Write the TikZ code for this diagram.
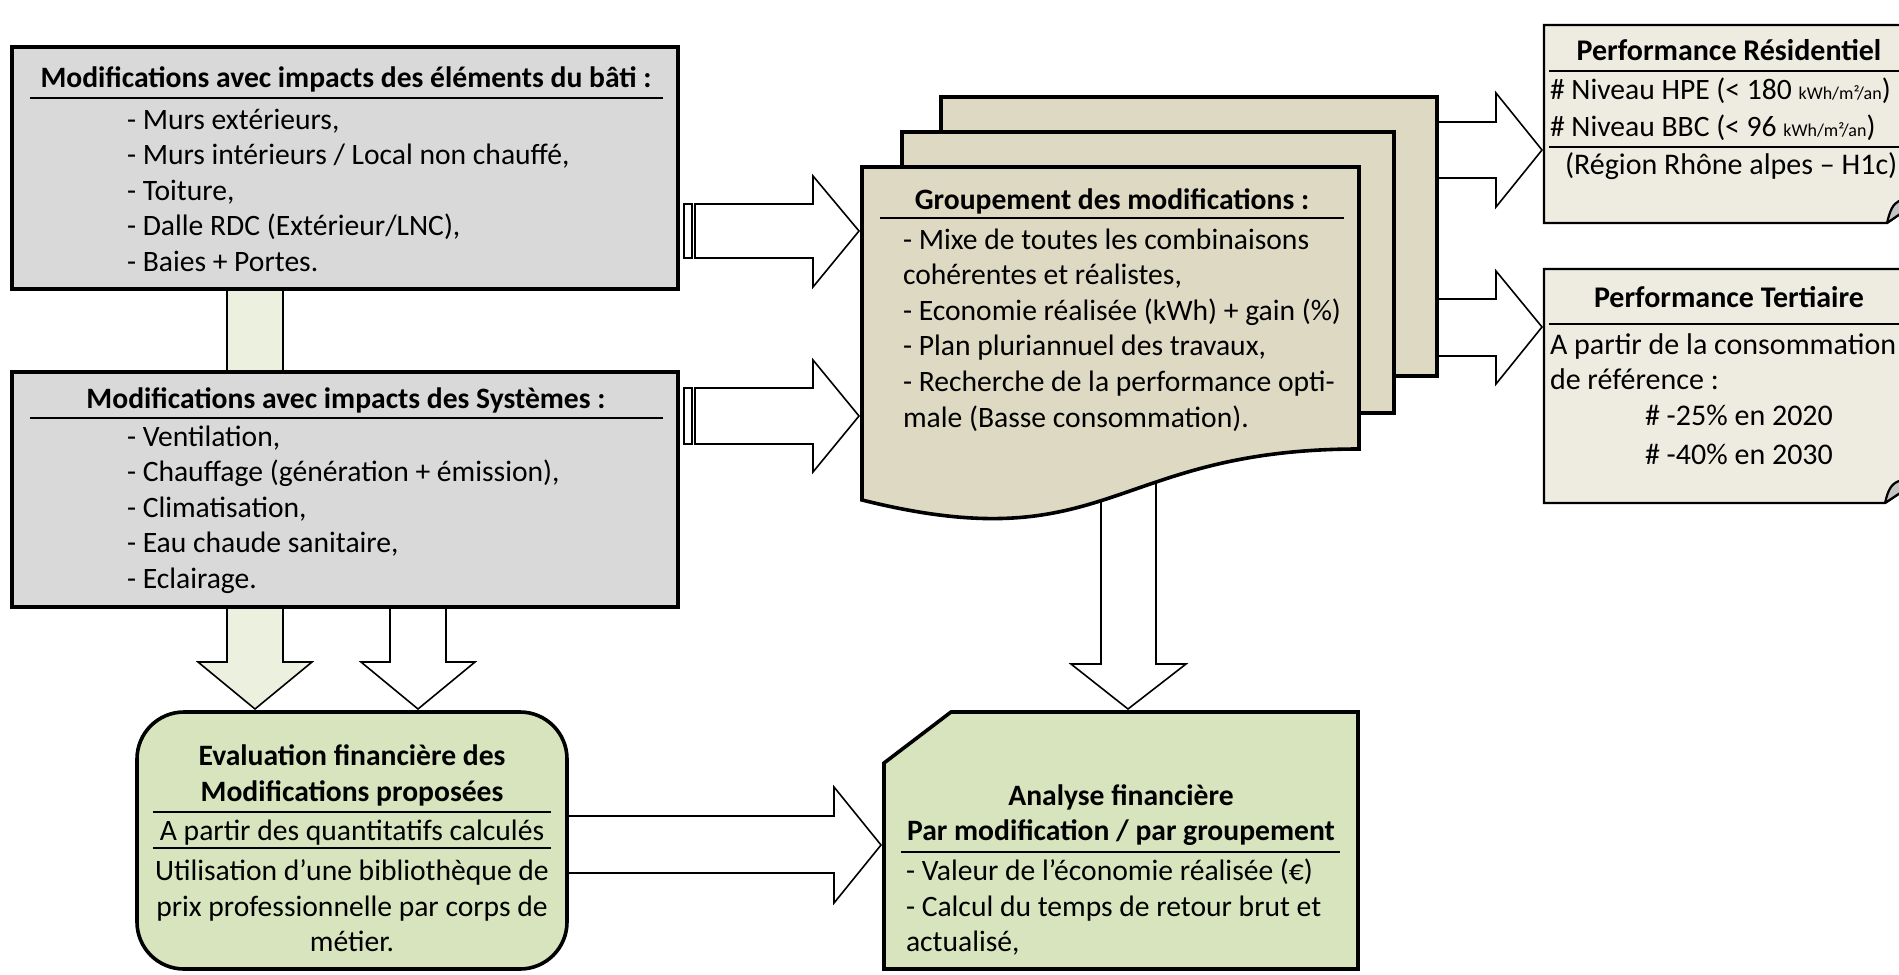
\documentclass[tikz,border=0pt]{standalone}
\usepackage{fontspec}
\setmainfont{Carlito}
\usetikzlibrary{fit}

\definecolor{boxgray}{HTML}{D9D9D9}
\definecolor{pagetan}{HTML}{DDD9C3}
\definecolor{papertan}{HTML}{EEECE1}
\definecolor{olivebox}{HTML}{D7E4BD}
\definecolor{olivelight}{HTML}{EBF1DE}
\definecolor{foldgray}{HTML}{C4C4C4}

\begin{document}
\begin{tikzpicture}[x=0.5pt,y=-0.5pt,
  panel/.style={draw=black,line width=1.8pt,line join=miter},
  paper/.style={draw=black,line width=1.1pt,fill=papertan,line join=miter},
  fold/.style={draw=black,line width=1.1pt,fill=foldgray,line join=round},
  blk/.style={draw=black,line width=0.8pt,fill=white,line join=miter},
  sep/.style={draw=black,line width=0.9pt},
  frame/.style={inner sep=0pt,outer sep=0pt,draw=none},
  txt/.style={inner sep=0pt,outer sep=0pt,font=\fontsize{14.8}{17.75}\selectfont},
  hd/.style={inner sep=0pt,outer sep=0pt,font=\fontsize{14.8}{17.75}\selectfont\bfseries},
  ntxt/.style={inner sep=0pt,outer sep=0pt,font=\fontsize{15}{18}\selectfont},
  nhd/.style={inner sep=0pt,outer sep=0pt,font=\fontsize{15}{18}\selectfont\bfseries}
]
\path[use as bounding box] (0,0) rectangle (1899,974);
\clip (0,0) rectangle (1899,974);

% ---------- green down arrow running behind both left panels ----------
\draw[blk,fill=olivelight] (227,280) -- (227,662) -- (198,662) -- (255,709)
  -- (312,662) -- (283,662) -- (283,280) -- cycle;
% white down arrow from the systems panel
\draw[blk] (390,600) -- (390,662) -- (361,662) -- (418,709)
  -- (475,662) -- (446,662) -- (446,600) -- cycle;

% ---------- left panels ----------
\node[panel,fill=boxgray,inner sep=0pt,fit={(12,47) (678,289)}] (bati) {};
\node[hd,anchor=base] (bati-h) at (346,88) {Modifications avec impacts des éléments du bâti :};
\draw[sep] (30,98) -- (663,98);
\foreach \s [count=\i] in {{- Murs extérieurs,},{- Murs intérieurs / Local non chauffé,},{- Toiture,},{- Dalle RDC (Extérieur/LNC),},{- Baies + Portes.}}
  \node[txt,anchor=base west] (bati-\i) at (127,{129+35.6*(\i-1)}) {\s};

\node[panel,fill=boxgray,inner sep=0pt,fit={(12,372) (678,607)}] (sys) {};
\node[hd,anchor=base] (sys-h) at (346,408) {Modifications avec impacts des Systèmes :};
\draw[sep] (30,418) -- (663,418);
\foreach \s [count=\i] in {{- Ventilation,},{- Chauffage (génération + émission),},{- Climatisation,},{- Eau chaude sanitaire,},{- Eclairage.}}
  \node[txt,anchor=base west] (sys-\i) at (127,{446+35.6*(\i-1)}) {\s};

% ---------- striped arrows into the grouping ----------
\draw[blk] (684,204) rectangle (692,258);
\draw[blk] (695,204) -- (813,204) -- (813,176) -- (859,231) -- (813,287)
  -- (813,258) -- (695,258) -- cycle;
\draw[blk] (684,388) rectangle (692,444);
\draw[blk] (695,388) -- (813,388) -- (813,360) -- (859,416) -- (813,472)
  -- (813,444) -- (695,444) -- cycle;

% ---------- arrows leaving the grouping ----------
\draw[blk] (1101,440) -- (1101,664) -- (1071,664) -- (1128,709) -- (1186,664)
  -- (1156,664) -- (1156,440) -- cycle;
\draw[blk] (1437,122) -- (1496,122) -- (1496,93) -- (1542,150) -- (1496,207)
  -- (1496,178) -- (1437,178) -- cycle;
\draw[blk] (1437,299) -- (1496,299) -- (1496,271) -- (1542,327) -- (1496,384)
  -- (1496,356) -- (1437,356) -- cycle;

% ---------- stacked documents ----------
\node[panel,fill=pagetan,inner sep=0pt,fit={(941,97) (1437,376)}] (page3) {};
\node[panel,fill=pagetan,inner sep=0pt,fit={(902,132) (1394,413)}] (page2) {};
\node[frame,fit={(862,167) (1359,515)}] (front) {};
\draw[panel,fill=pagetan] (862,167) -- (1359,167) -- (1359,449)
  .. controls (1110,449) and (1110,562) .. (862,500) -- cycle;
\node[hd,anchor=base] (front-h) at (1112,209) {Groupement des modifications :};
\draw[sep] (880,218) -- (1344,218);
\foreach \s [count=\i] in {{- Mixe de toutes les combinaisons},{cohérentes et réalistes,},{- Economie réalisée (kWh) + gain (\%)},{- Plan pluriannuel des travaux,},{- Recherche de la performance opti-},{male (Basse consommation).}}
  \node[txt,anchor=base west] (front-\i) at (903,{249+35.6*(\i-1)}) {\s};

% ---------- performance targets (folded-corner notes) ----------
\node[frame,fit={(1544,25) (1930,223)}] (resid) {};
\draw[paper] (1544,25) -- (1930,25) -- (1930,193) -- (1887,223) -- (1544,223) -- cycle;
\draw[fold] (1887,223) .. controls (1890,210) and (1893,204) .. (1899,201) -- (1916,203) -- cycle;
\node[nhd,anchor=base] (resid-h) at (1729,61) {Performance Résidentiel};
\draw[sep] (1549,71) -- (1899,71);
\node[txt,anchor=base west] (resid-1) at (1550,99) {\# Niveau HPE (< 180 {\fontsize{9}{10}\selectfont kWh/m²/an})};
\node[txt,anchor=base west] (resid-2) at (1550,136) {\# Niveau BBC (< 96 {\fontsize{9}{10}\selectfont kWh/m²/an})};
\draw[sep] (1549,147) -- (1899,147);
\node[ntxt,anchor=base west] (resid-3) at (1565,174) {(Région Rhône alpes – H1c)};

\node[frame,fit={(1544,269) (1930,503)}] (tert) {};
\draw[paper] (1544,269) -- (1930,269) -- (1930,473) -- (1885,503) -- (1544,503) -- cycle;
\draw[fold] (1885,503) .. controls (1888,490) and (1891,484) .. (1899,481) -- (1915,483) -- cycle;
\node[nhd,anchor=base] (tert-h) at (1729,307) {Performance Tertiaire};
\draw[sep] (1549,324) -- (1899,324);
\node[ntxt,anchor=base west] (tert-1) at (1550,354) {A partir de la consommation};
\node[ntxt,anchor=base west] (tert-2) at (1550,389) {de référence :};
\node[ntxt,anchor=base west] (tert-3) at (1645,425) {\# -25\% en 2020};
\node[ntxt,anchor=base west] (tert-4) at (1645,464) {\# -40\% en 2030};

% ---------- financial evaluation ----------
\draw[blk] (567,816) -- (834,816) -- (834,787) -- (881,845) -- (834,903)
  -- (834,873) -- (567,873) -- cycle;

\node[panel,fill=olivebox,rounded corners=23.5pt,inner sep=0pt,fit={(137,712) (567,969)}] (evalbox) {};
\node[hd,anchor=base] (eval-1) at (352,765) {Evaluation financière des};
\node[hd,anchor=base] (eval-2) at (352,801) {Modifications proposées};
\draw[sep] (153,812) -- (551,812);
\node[txt,anchor=base] (eval-3) at (352,840) {A partir des quantitatifs calculés};
\draw[sep] (153,848) -- (551,848);
\node[txt,anchor=base] (eval-4) at (352,880) {Utilisation d’une bibliothèque de};
\node[txt,anchor=base] (eval-5) at (352,916) {prix professionnelle par corps de};
\node[txt,anchor=base] (eval-6) at (352,951) {métier.};

\node[frame,fit={(884,712) (1358,969)}] (analyse) {};
\draw[panel,fill=olivebox] ([xshift=33.5pt]analyse.north west) -- (analyse.north east)
  -- (analyse.south east) -- (analyse.south west) -- ([yshift=-25.5pt]analyse.north west) -- cycle;
\node[hd,anchor=base] (analyse-h1) at (1121,805) {Analyse financière};
\node[hd,anchor=base] (analyse-h2) at (1121,840) {Par modification / par groupement};
\draw[sep] (901,852) -- (1340,852);
\node[txt,anchor=base west] (analyse-1) at (906,880) {- Valeur de l’économie réalisée (€)};
\node[txt,anchor=base west] (analyse-2) at (906,916) {- Calcul du temps de retour brut et};
\node[txt,anchor=base west] (analyse-3) at (906,951) {actualisé,};
\end{tikzpicture}
\end{document}
